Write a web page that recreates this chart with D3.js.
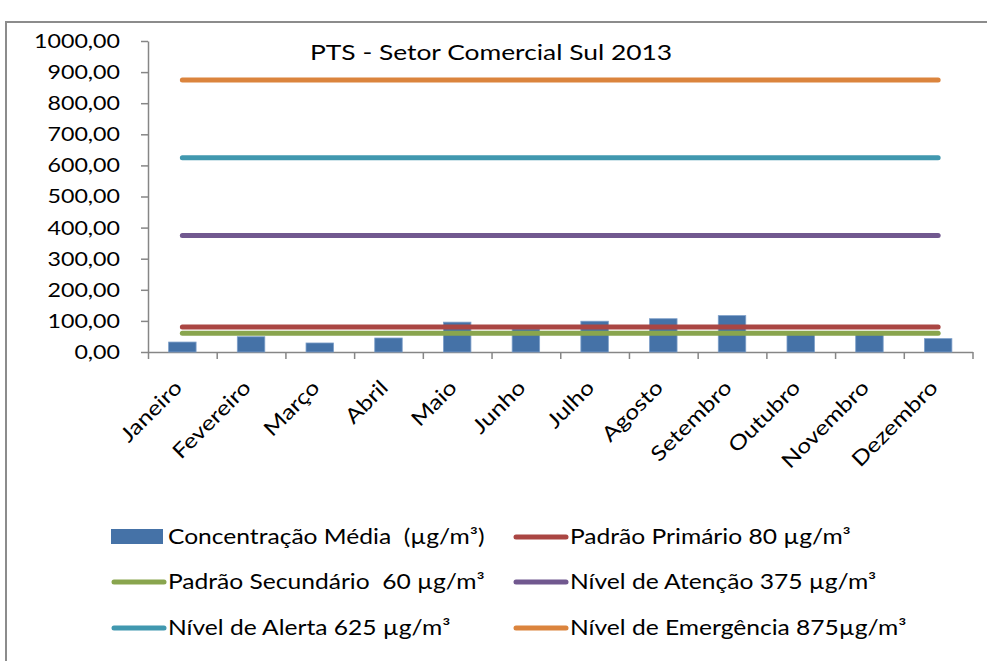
<!DOCTYPE html>
<html lang="pt">
<head>
    <meta charset="UTF-8">
    <title>PTS - Setor Comercial Sul 2013</title>
    <script type="text/javascript" src="https://cdn.jsdelivr.net/npm/d3@7/dist/d3.min.js"></script>
    <style>
        body { margin: 0; background: #fff; }
        text { font-family: Lato, "Open Sans", sans-serif; fill: #000; }
    </style>
</head>
<body>
<script type="text/javascript">
    const width = 987, height = 661;

    // dados
    const months = ['Janeiro', 'Fevereiro', 'Março', 'Abril', 'Maio', 'Junho',
        'Julho', 'Agosto', 'Setembro', 'Outubro', 'Novembro', 'Dezembro'];
    const concentracao = [32, 49, 29, 45, 96, 74, 99, 107, 117, 56, 57, 43];
    const limitNames = ['Padrão Primário 80 µg/m³', 'Padrão Secundário  60 µg/m³',
        'Nível de Atenção 375 µg/m³', 'Nível de Alerta 625 µg/m³', 'Nível de Emergência 875µg/m³'];
    const limitValues = [80, 60, 375, 625, 875];
    const yTicks = [0, 100, 200, 300, 400, 500, 600, 700, 800, 900, 1000];
    const title = 'PTS - Setor Comercial Sul 2013';
    const barName = 'Concentração Média  (µg/m³)';

    const barColor = '#4572a7';
    const limitColors = ['#aa4643', '#89a54e', '#71588f', '#4198af', '#db843d'];
    const axisColor = '#868686';
    const stretch = 'scale(1.2,1)';   // o texto do original é mais largo

    const svg = d3.select('body').append('svg')
        .attr('width', width)
        .attr('height', height);

    // moldura
    svg.append('rect')
        .attr('x', 6).attr('y', 22)
        .attr('width', width + 20).attr('height', height + 20)
        .attr('fill', 'none')
        .attr('stroke', '#8c8c8c')
        .attr('stroke-width', 2);

    // escalas
    const x = d3.scaleBand()
        .domain(months)
        .range([148, 972.5])
        .paddingInner(0.6)
        .paddingOuter(0.3);
    const xEdge = d3.scaleLinear().domain([0, months.length]).range([148, 972.5]);
    const y = d3.scaleLinear().domain([0, 1000]).range([352, 41]);

    const fmt = d3.formatLocale({decimal: ',', thousands: '.', grouping: [3], currency: ['', '']}).format('.2f');

    // eixo y
    const gy = svg.append('g')
        .attr('transform', 'translate(148,0)')
        .call(d3.axisLeft(y).tickValues(yTicks).tickSize(7).tickSizeOuter(0).tickPadding(21).tickFormat(fmt));
    gy.selectAll('line, path').attr('stroke', axisColor).attr('stroke-width', 1.5);
    gy.selectAll('text')
        .style('font-size', '20px')
        .style('font-family', 'Lato, sans-serif')
        .attr('transform', function () {
            return 'translate(' + d3.select(this).attr('x') + ',0) scale(1.16,1)';
        })
        .attr('x', 0);

    // eixo x (marcas nos limites das categorias)
    const gx = svg.append('g')
        .attr('transform', 'translate(0,352)')
        .call(d3.axisBottom(xEdge).tickValues(d3.range(months.length + 1)).tickSize(7).tickSizeOuter(0).tickFormat(''));
    gx.selectAll('line, path').attr('stroke', axisColor).attr('stroke-width', 1.5);

    svg.append('g').selectAll('text')
        .data(months)
        .enter()
        .append('text')
        .attr('text-anchor', 'end')
        .attr('transform', function (d) {
            return 'translate(' + (x(d) + x.bandwidth() / 2 + 1) + ',389) rotate(-45) ' + stretch;
        })
        .style('font-size', '20.5px')
        .text(function (d) { return d; });

    // barras
    svg.append('g').selectAll('rect')
        .data(concentracao)
        .enter()
        .append('rect')
        .attr('x', function (d, i) { return x(months[i]); })
        .attr('y', function (d) { return y(d); })
        .attr('width', x.bandwidth())
        .attr('height', function (d) { return y(0) - y(d); })
        .attr('fill', barColor)
        .attr('stroke', '#7d9fc9')
        .attr('stroke-width', 0.8);

    // linhas de referência
    const cx0 = x(months[0]) + x.bandwidth() / 2;
    const cx1 = x(months[months.length - 1]) + x.bandwidth() / 2;
    svg.append('g').selectAll('line')
        .data(limitValues)
        .enter()
        .append('line')
        .attr('x1', cx0).attr('x2', cx1)
        .attr('y1', function (d) { return y(d); })
        .attr('y2', function (d) { return y(d); })
        .attr('stroke', function (d, i) { return limitColors[i]; })
        .attr('stroke-width', 5)
        .attr('stroke-linecap', 'round');

    // título
    svg.append('text')
        .attr('transform', 'translate(310,60) ' + stretch)
        .style('font-size', '22px')
        .text(title);

    // legenda
    const legendItems = [{name: barName, type: 'bar', color: barColor}];
    limitNames.forEach(function (n, i) {
        legendItems.push({name: n, type: 'line', color: limitColors[i]});
    });
    const colX = [111, 513];
    const rowY = [537, 582, 628];
    const legend = svg.append('g').selectAll('g')
        .data(legendItems)
        .enter()
        .append('g')
        .attr('transform', function (d, i) {
            return 'translate(' + colX[i % 2] + ',' + rowY[Math.floor(i / 2)] + ')';
        });
    legend.each(function (d) {
        const g = d3.select(this);
        if (d.type === 'bar') {
            g.append('rect').attr('x', 0).attr('y', -8).attr('width', 52).attr('height', 15).attr('fill', d.color);
        } else {
            g.append('line').attr('x1', 3).attr('x2', 53).attr('y1', 0).attr('y2', 0)
                .attr('stroke', d.color).attr('stroke-width', 5).attr('stroke-linecap', 'round');
        }
        g.append('text')
            .attr('transform', 'translate(57,7) ' + stretch)
            .style('font-size', '20.5px')
            .style('white-space', 'pre')
            .text(d.name);
    });
</script>
</body>
</html>
